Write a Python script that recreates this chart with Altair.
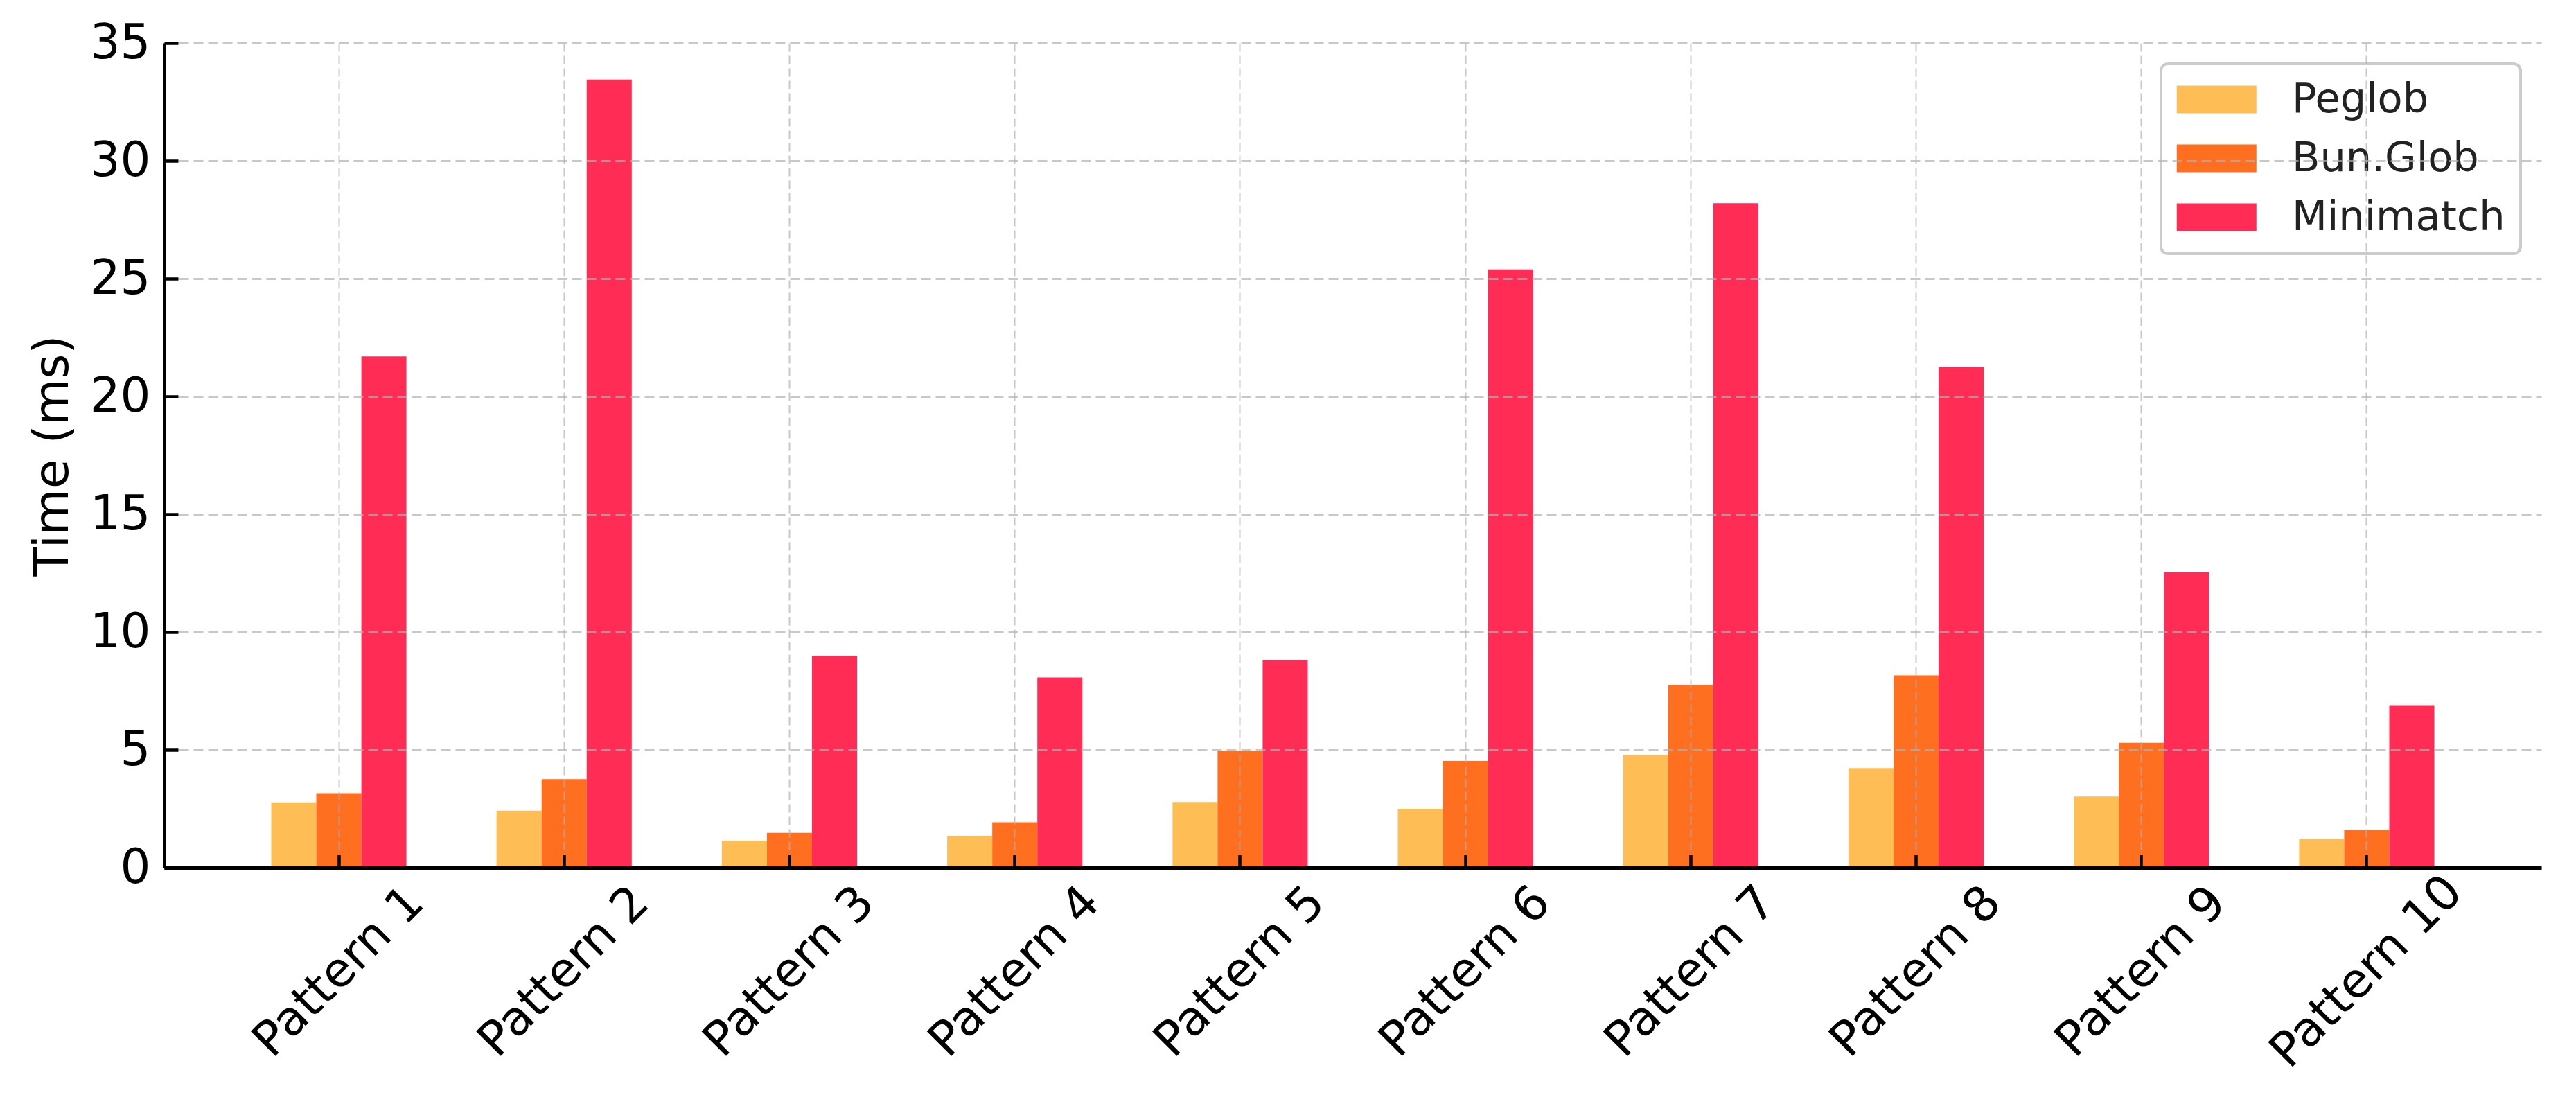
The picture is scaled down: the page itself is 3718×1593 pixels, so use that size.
import altair as alt
import pandas as pd

patterns = ["Pattern 1", "Pattern 2", "Pattern 3", "Pattern 4", "Pattern 5",
            "Pattern 6", "Pattern 7", "Pattern 8", "Pattern 9", "Pattern 10"]
tools = ["Peglob", "Bun.Glob", "Minimatch"]
peglob = [2.77, 2.42, 1.15, 1.34, 2.79, 2.50, 4.79, 4.23, 3.02, 1.22]
bun_glob = [3.16, 3.76, 1.48, 1.93, 4.96, 4.53, 7.76, 8.16, 5.30, 1.60]
minimatch = [21.70, 33.45, 8.99, 8.07, 8.81, 25.39, 28.20, 21.25, 12.54, 6.90]
colors = ["#FFBE55", "#FF6F1F", "#FF2D55"]
y_ticks = [0, 5, 10, 15, 20, 25, 30, 35]

rows = []
for tool, vals in zip(tools, [peglob, bun_glob, minimatch]):
    for p, v in zip(patterns, vals):
        rows.append({"pattern": p, "tool": tool, "time": v})
df = pd.DataFrame(rows)

FONT = "DejaVu Sans"
FS = 69

x_scale = alt.Scale(domain=patterns, paddingInner=0, paddingOuter=0.275)
y_scale = alt.Scale(domain=[0, 35], nice=False, zero=True)
off_scale = alt.Scale(domain=tools, paddingInner=0, paddingOuter=1)
color_scale = alt.Scale(domain=tools, range=colors)

base = alt.Chart(df)

bars = base.mark_bar().encode(
    x=alt.X("pattern:N", scale=x_scale, sort=patterns,
            axis=alt.Axis(orient="bottom", title=None, bandPosition=0.5,
                          ticks=False, domain=True, domainColor="black", domainWidth=5,
                          grid=True, gridColor="#b0b0b0", gridOpacity=0.7, gridWidth=2,
                          gridDash=[12, 6],
                          labelAngle=-45, labelAlign="center", labelBaseline="middle",
                          labelPadding=150, labelFontSize=FS, labelFont=FONT,
                          labelColor="black", labelOverlap=False, labelBound=False,
                          labelFlush=False, labelLimit=2000, zindex=1)),
    xOffset=alt.XOffset("tool:N", scale=off_scale, sort=tools),
    y=alt.Y("time:Q", scale=y_scale,
            axis=alt.Axis(orient="left", title="Time (ms)", values=y_ticks,
                          ticks=False, domain=True, domainColor="black", domainWidth=5,
                          grid=True, gridColor="#b0b0b0", gridOpacity=0.7, gridWidth=3,
                          gridDash=[14, 7],
                          labelPadding=20, labelFontSize=FS, labelFont=FONT,
                          labelColor="black", labelFlush=False,
                          titleFont=FONT, titleFontSize=FS, titleFontWeight="normal",
                          titleColor="black", titlePadding=18, zindex=1)),
    color=alt.Color("tool:N", scale=color_scale, sort=tools,
                    legend=alt.Legend(title=None, orient="top-right", offset=30,
                                      fillColor="white", strokeColor="#cccccc",
                                      cornerRadius=10, padding=22,
                                      symbolType="M-1,-0.7L3,-0.7L3,0.7L-1,0.7Z",
                                      symbolSize=3306, symbolStrokeWidth=0,
                                      symbolOpacity=1,
                                      labelFont=FONT, labelFontSize=59,
                                      labelColor="#222222", labelOffset=108,
                                      rowPadding=25, labelLimit=1000)),
)

tick_layer = base.mark_bar(opacity=0).encode(
    x=alt.X("pattern:N", scale=x_scale, sort=patterns,
            axis=alt.Axis(orient="bottom", title=None, bandPosition=0.5,
                          labels=False, domain=False, grid=False, ticks=True,
                          tickSize=19, tickWidth=4.5, tickColor="black",
                          offset=-19, zindex=1)),
    xOffset=alt.XOffset("tool:N", scale=off_scale, sort=tools),
    y=alt.Y("time:Q", scale=y_scale,
            axis=alt.Axis(orient="left", title=None, values=y_ticks,
                          labels=False, domain=False, grid=False, ticks=True,
                          tickSize=20, tickWidth=4.5, tickColor="black",
                          offset=-20, zindex=1)),
    color=alt.Color("tool:N", scale=color_scale, sort=tools, legend=None),
)

chart = (
    alt.layer(bars, tick_layer)
    .resolve_axis(x="independent", y="independent")
    .properties(width=3431, height=1190,
                padding={"left": 34, "top": 20, "right": 5, "bottom": 5},
                background="white")
    .configure_view(stroke=None)
    .configure_legend(strokeWidth=4)
)

chart.save("out.html", embed_options={"renderer": "svg", "actions": False})
